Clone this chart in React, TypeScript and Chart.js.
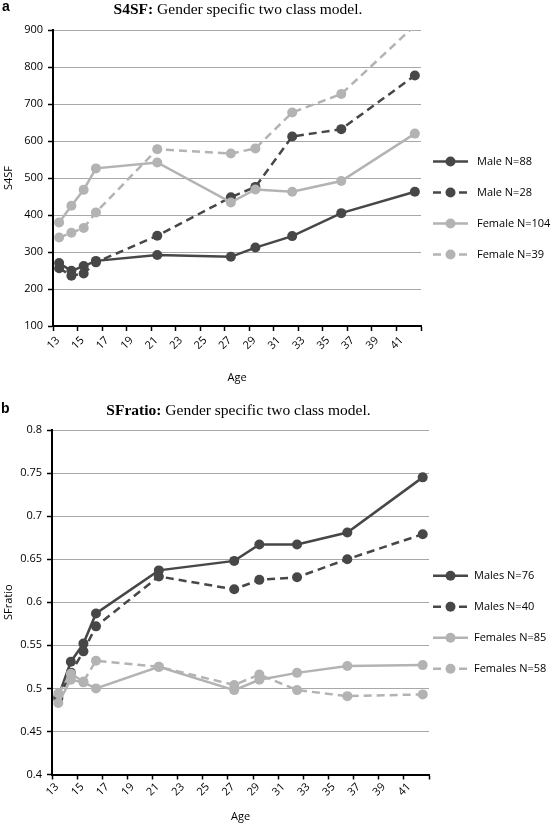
import React, { useEffect, useRef } from 'react';
import { Chart, registerables } from 'chart.js';

Chart.register(...registerables);

// ---------- data ----------
const ages = [13.5, 14.5, 15.5, 16.5, 21.5, 27.5, 29.5, 32.5, 36.5, 42.5];

const s4sfMaleN88 = [270, 249, 262, 276, 292, 287, 312, 343, 405, 463];
const s4sfMaleN28 = [256, 236, 242, 272, 344, 448, 476, 612, 632, 777];
const s4sfFemaleN104 = [380, 425, 468, 526, 542, 434, 469, 463, 492, 620];
const s4sfFemaleN39 = [339, 352, 365, 407, 578, 566, 580, 677, 727, 912];

const sfMalesN76 = [0.49, 0.531, 0.552, 0.587, 0.637, 0.648, 0.667, 0.667, 0.681, 0.745];
const sfMalesN40 = [0.488, 0.518, 0.543, 0.572, 0.63, 0.615, 0.626, 0.629, 0.65, 0.679];
const sfFemalesN85 = [0.483, 0.51, 0.507, 0.5, 0.525, 0.498, 0.51, 0.518, 0.526, 0.527];
const sfFemalesN58 = [0.494, 0.517, 0.508, 0.532, 0.525, 0.504, 0.516, 0.498, 0.491, 0.493];

const s4sfLabels = ['Male N=88', 'Male N=28', 'Female N=104', 'Female N=39'];
const sfLabels = ['Males N=76', 'Males N=40', 'Females N=85', 'Females N=58'];

const xMin = 13;
const xMax = 43;
const xStep = 2;

// ---------- styles ----------
const DARK = '#474747';
const LIGHT = '#b3b3b3';
const DASH = [8, 5];
const SANS = '"Open Sans", "DejaVu Sans", sans-serif';

const sideLegend = {
  id: 'sideLegend',
  afterDraw(chart: any, _args: any, opts: any) {
    const { ctx, chartArea } = chart;
    const cy = (chartArea.top + chartArea.bottom) / 2 + opts.offsetY;
    const n = chart.data.datasets.length;
    chart.data.datasets.forEach((ds: any, i: number) => {
      const y = cy + (i - (n - 1) / 2) * opts.spacing;
      ctx.save();
      ctx.strokeStyle = ds.borderColor;
      ctx.lineWidth = ds.borderWidth;
      ctx.setLineDash(ds.borderDash || []);
      ctx.beginPath();
      ctx.moveTo(opts.x0, y);
      ctx.lineTo(opts.x1, y);
      ctx.stroke();
      ctx.setLineDash([]);
      ctx.fillStyle = ds.pointBackgroundColor;
      ctx.beginPath();
      ctx.arc((opts.x0 + opts.x1) / 2, y, ds.pointRadius, 0, Math.PI * 2);
      ctx.fill();
      ctx.fillStyle = '#000';
      ctx.font = `11px ${SANS}`;
      ctx.textBaseline = 'middle';
      ctx.textAlign = 'left';
      ctx.fillText(ds.label, opts.textX, y);
      ctx.restore();
    });
  },
};

function series(label: string, data: number[], color: string, dashed: boolean, order: number) {
  return {
    label,
    data: ages.map((a, i) => ({ x: a, y: data[i] })),
    borderColor: color,
    backgroundColor: color,
    pointBackgroundColor: color,
    pointBorderWidth: 0,
    pointRadius: 5,
    borderWidth: 2.5,
    borderDash: dashed ? DASH : [],
    tension: 0,
    order,
  };
}

type Props = {
  top: number;
  height: number;
  datasets: any[];
  yMin: number;
  yMax: number;
  yStep: number;
  yTitle: string;
  padTop: number;
  plotBottom: number;
  leftW: number;
  padRight: number;
  legendOffset: number;
  legendTextX: number;
  ageTitlePad: number;
  xTickPad: number;
  fmt: (v: number) => string;
};

function LineChart(p: Props) {
  const ref = useRef<HTMLCanvasElement | null>(null);
  useEffect(() => {
    if (!ref.current) return;
    const chart = new Chart(ref.current, {
      type: 'line',
      data: { datasets: p.datasets },
      plugins: [sideLegend],
      options: {
        animation: false,
        responsive: false,
        devicePixelRatio: 1,
        layout: { padding: { top: p.padTop, right: p.padRight, left: 0, bottom: 0 } },
        plugins: {
          legend: { display: false },
          tooltip: { enabled: false },
          title: { display: false },
          sideLegend: { x0: 433, x1: 468, textX: p.legendTextX, spacing: 31, offsetY: p.legendOffset },
        } as any,
        scales: {
          x: {
            type: 'linear',
            min: xMin,
            max: xMax,
            ticks: {
              stepSize: xStep,
              autoSkip: false,
              maxRotation: 45,
              minRotation: 45,
              labelOffset: 5,
              padding: p.xTickPad,
              color: '#000',
              font: { family: SANS, size: 11 },
              callback: (v: any) => (Number(v) >= xMax ? '' : String(v)),
            },
            grid: { drawOnChartArea: false, drawTicks: true, tickLength: 5, tickColor: '#000', tickWidth: 1.5 },
            border: { color: '#000', width: 2 },
            title: {
              display: true,
              text: 'Age',
              color: '#000',
              font: { family: SANS, size: 11 },
              padding: { top: 0, bottom: p.ageTitlePad },
            },
            afterFit: (s: any) => {
              s.height = p.height - p.plotBottom;
            },
          },
          y: {
            type: 'linear',
            min: p.yMin,
            max: p.yMax,
            ticks: {
              stepSize: p.yStep,
              padding: 5,
              color: '#000',
              font: { family: SANS, size: 11 },
              callback: (v: any) => p.fmt(Number(v)),
            },
            grid: { color: '#a8a8a8', lineWidth: 1, drawTicks: true, tickLength: 5, tickColor: '#000', tickWidth: 1.5 },
            border: { color: '#000', width: 2 },
            title: {
              display: true,
              text: p.yTitle,
              color: '#000',
              font: { family: SANS, size: 11 },
              padding: { top: 2, bottom: 0 },
            },
            afterFit: (s: any) => {
              s.width = p.leftW;
            },
          },
        },
      } as any,
    });
    return () => chart.destroy();
  }, []);
  return (
    <canvas
      ref={ref}
      width={553}
      height={p.height}
      style={{ position: 'absolute', left: 0, top: p.top, width: 553, height: p.height, display: 'block' }}
    />
  );
}

const s4sfDatasets = [
  series(s4sfLabels[0], s4sfMaleN88, DARK, false, 4),
  series(s4sfLabels[1], s4sfMaleN28, DARK, true, 3),
  series(s4sfLabels[2], s4sfFemaleN104, LIGHT, false, 2),
  series(s4sfLabels[3], s4sfFemaleN39, LIGHT, true, 1),
];

const sfDatasets = [
  series(sfLabels[0], sfMalesN76, DARK, false, 4),
  series(sfLabels[1], sfMalesN40, DARK, true, 3),
  series(sfLabels[2], sfFemalesN85, LIGHT, false, 2),
  series(sfLabels[3], sfFemalesN58, LIGHT, true, 1),
];

const serifTitle: React.CSSProperties = {
  position: 'absolute',
  transform: 'translateX(-50%)',
  whiteSpace: 'nowrap',
  fontFamily: '"Liberation Serif", "Times New Roman", serif',
  fontSize: 15.5,
  lineHeight: '15.5px',
  color: '#000',
};

const panelLetter: React.CSSProperties = {
  position: 'absolute',
  fontFamily: '"Liberation Sans", Arial, sans-serif',
  fontWeight: 'bold',
  fontSize: 14,
  lineHeight: '14px',
  color: '#000',
};

export default function App() {
  return (
    <div style={{ position: 'absolute', left: 0, top: 0, width: 553, height: 825, background: '#fff', overflow: 'hidden' }}>
      <LineChart
        top={0}
        height={392}
        datasets={s4sfDatasets}
        yMin={100}
        yMax={900}
        yStep={100}
        yTitle="S4SF"
        padTop={30}
        plotBottom={326}
        leftW={53}
        padRight={132}
        legendOffset={30}
        legendTextX={477}
        ageTitlePad={7.4}
        xTickPad={3}
        fmt={(v) => String(Math.round(v))}
      />
      <LineChart
        top={395}
        height={430}
        datasets={sfDatasets}
        yMin={0.4}
        yMax={0.8}
        yStep={0.05}
        yTitle="SFratio"
        padTop={35}
        plotBottom={379.5}
        leftW={52}
        padRight={124}
        legendOffset={20}
        legendTextX={474}
        ageTitlePad={1.7}
        xTickPad={1}
        fmt={(v) => String(Math.round(v * 100) / 100)}
      />
      <div style={{ ...panelLetter, left: 2, top: -1.2 }}>a</div>
      <div style={{ ...serifTitle, left: 238, top: 0.5 }}>
        <b>S4SF:</b> Gender specific two class model.
      </div>
      <div style={{ ...panelLetter, left: 1, top: 401.2 }}>b</div>
      <div style={{ ...serifTitle, left: 238.5, top: 402 }}>
        <b>SFratio:</b> Gender specific two class model.
      </div>
    </div>
  );
}
